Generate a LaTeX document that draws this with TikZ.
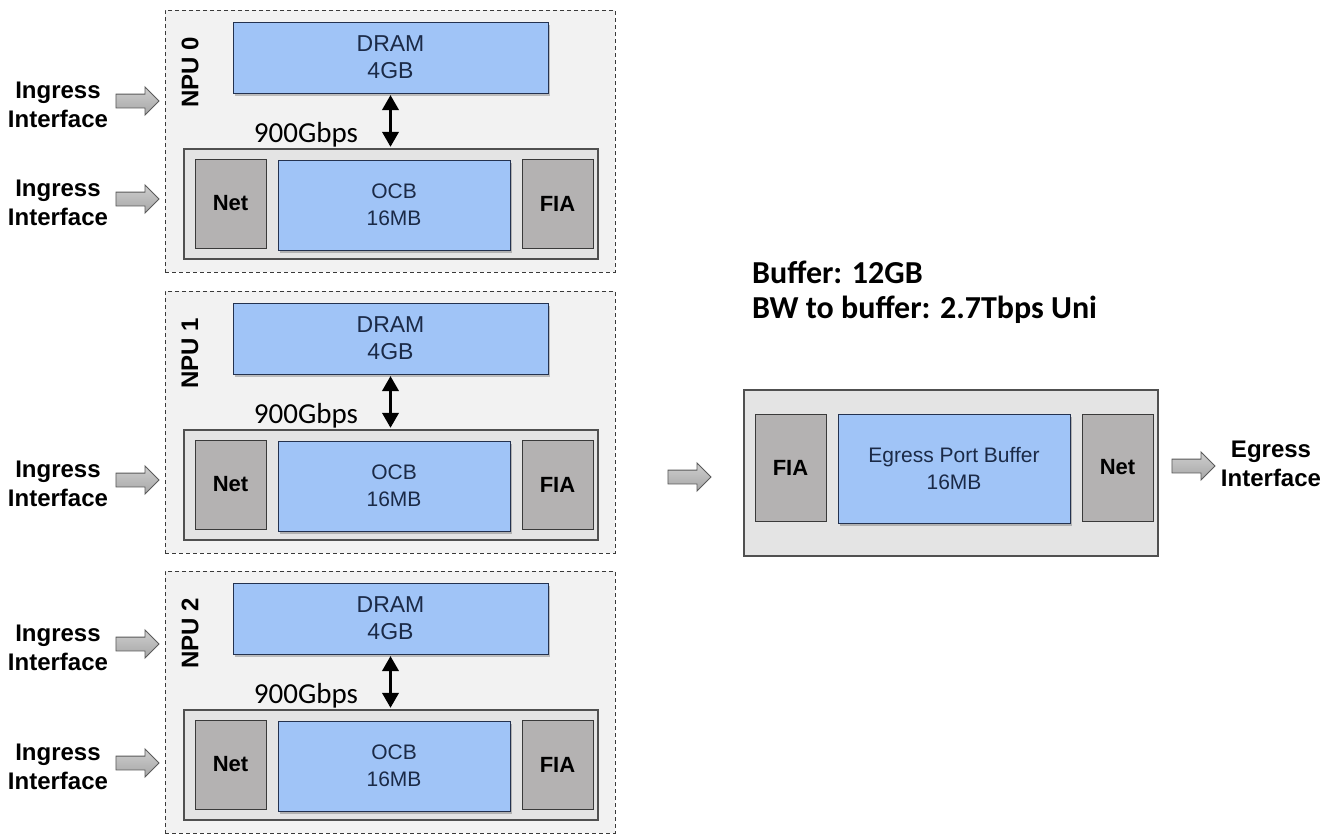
\documentclass[tikz,border=0pt]{standalone}
\usepackage{fontspec}
\setmainfont{Liberation Sans}
\newfontfamily\calib{Carlito}
\usetikzlibrary{shapes.arrows, arrows.meta, shadows}

\definecolor{npufill}{HTML}{F2F2F2}
\definecolor{npuline}{HTML}{3A3A3A}
\definecolor{trayfill}{HTML}{E4E4E4}
\definecolor{trayline}{HTML}{505050}
\definecolor{memfill}{HTML}{A0C4F7}
\definecolor{memline}{HTML}{24324F}
\definecolor{memtext}{HTML}{1B2A47}
\definecolor{blockfill}{HTML}{B4B2B2}
\definecolor{blockline}{HTML}{3A3A3A}
\definecolor{arrowfill}{HTML}{B9B9B9}
\definecolor{arrowline}{HTML}{5A5A5A}

\tikzset{
  npubox/.style={draw=npuline, fill=npufill, dash pattern=on 4pt off 3pt,
    line width=0.9pt, minimum width=450pt, minimum height=262pt, inner sep=0pt},
  tray/.style={draw=trayline, fill=trayfill, line width=1.2pt, inner sep=0pt},
  membox/.style={draw=memline, fill=memfill, line width=1pt, inner sep=0pt,
    text=memtext, align=center,
    drop shadow={shadow xshift=2pt, shadow yshift=-3pt, opacity=0.22, fill=black}},
  unitbox/.style={draw=blockline, fill=blockfill, line width=1pt, inner sep=0pt,
    font=\bfseries\fontsize{22}{26}\selectfont, minimum width=71pt},
  blockarrow/.style={single arrow, draw=arrowline, top color=arrowfill!70!white,
    bottom color=arrowfill!90!black, line width=0.9pt,
    minimum height=43pt, single arrow head extend=7pt,
    single arrow head indent=0pt, inner sep=0pt},
  iflabel/.style={font=\bfseries\fontsize{24}{28.5}\selectfont, align=center, inner sep=0pt},
  npulabel/.style={font=\bfseries\fontsize{24}{28}\selectfont, inner sep=0pt},
  ratelabel/.style={font=\calib\fontsize{29}{32}\selectfont, inner sep=0pt},
  bidir/.style={line width=3.5pt, {Triangle[width=16pt,length=15pt]}-{Triangle[width=16pt,length=15pt]},
    shorten <=1.5pt, shorten >=1.5pt},
  infolabel/.style={font=\calib\bfseries\fontsize{32}{36}\selectfont, inner sep=0pt, anchor=base west}
}
% empty strut that gives the block arrows a 13pt shaft
\newcommand{\shaftstrut}{\rule{0pt}{13pt}}

\begin{document}
\begin{tikzpicture}[x=1pt, y=-1pt]
\useasboundingbox (0,0) rectangle (1335,836);
\fill[white] (0,0) rectangle (1335,836);

% three ingress NPUs, each with DRAM above an on-chip buffer tray
\foreach \i/\T in {0/10, 1/291, 2/571}{
  \node[npubox] (npu\i) at (390,\T+131) {};
  \node[membox, minimum width=315pt, minimum height=71pt,
        font=\fontsize{23}{27}\selectfont] (dram\i) at (390.5,\T+47.5) {DRAM\\4GB};
  \node[tray, minimum width=414pt, minimum height=110pt] (tray\i) at (391,\T+194) {};
  \node[unitbox, minimum height=89pt] (net\i) at (230.5,\T+193.5) {Net};
  \node[membox, minimum width=232pt, minimum height=90pt,
        font=\fontsize{21}{27}\selectfont] (ocb\i) at (394,\T+195) {OCB\\16MB};
  \node[unitbox, minimum height=89pt] (fia\i) at (557.5,\T+193.5) {FIA};
  \node[npulabel, rotate=90] (name\i) at (190,\T+62) {NPU \i};
  \draw[bidir] (dram\i.south) -- (dram\i.south |- tray\i.north);
  \node[ratelabel] (rate\i) at (306,\T+125) {900Gbps};
}

% ingress interfaces
\foreach \n/\y in {a/101, b/199, c/480, d/644, e/763}{
  \node[blockarrow] (in\n) at (134,\y) {\shaftstrut};
  \node[iflabel] (inlab\n) at (58,\y+4) {Ingress\\Interface};
}

% fabric towards the egress NPU
\node[blockarrow] (fab) at (686,477) {\shaftstrut};

% egress NPU
\node[tray, minimum width=414pt, minimum height=166pt] (etray) at (951,473) {};
\node[unitbox, minimum height=107pt] (efia) at (790.5,467.5) {FIA};
\node[membox, minimum width=232pt, minimum height=109pt,
      font=\fontsize{21}{27}\selectfont] (epb) at (954,468.5) {Egress Port Buffer\\16MB};
\node[unitbox, minimum height=107pt] (enet) at (1117.5,467.5) {Net};
\node[blockarrow] (eout) at (1190,466) {\shaftstrut};
\node[iflabel] (eoutlab) at (1271,464) {Egress\\Interface};

% buffer summary
\node[infolabel] (bufsize) at (752,283) {Buffer: 12GB};
\node[infolabel] (bufbw) at (752,318) {BW to buffer: 2.7Tbps Uni};
\end{tikzpicture}
\end{document}
